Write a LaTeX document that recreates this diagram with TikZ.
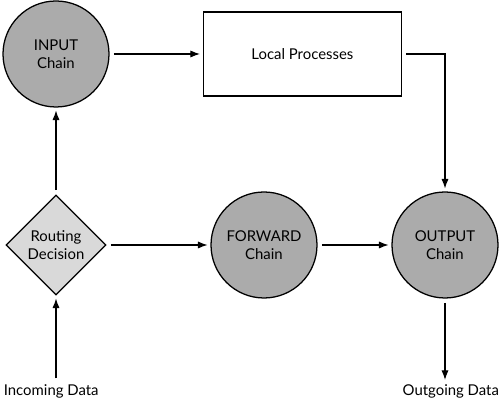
\documentclass[tikz,border=0pt]{standalone}
\usepackage{fontspec}
\setmainfont{Lato}
\usetikzlibrary{positioning,arrows.meta,shapes.geometric}
\tikzset{
  flowarrow/.style={-{Latex[length=2.4mm,width=1.8mm]}, line width=0.8pt, shorten >=2pt, shorten <=3pt},
  chainnode/.style={draw, circle, line width=0.9pt, fill=black!33, minimum size=2.65cm, inner sep=0pt, align=center},
  decision/.style={draw, diamond, aspect=1, line width=0.9pt, fill=black!15, minimum size=2.5cm, inner sep=0pt, align=center},
  procbox/.style={draw, line width=0.9pt, fill=white, minimum width=4.95cm, minimum height=2.1cm, align=center},
  datalabel/.style={inner sep=1pt}
}

\begin{document}
\begin{tikzpicture}[>=Latex, every node/.style={font=\fontsize{10.6pt}{12.8pt}\selectfont}]
  \useasboundingbox (0,0) rectangle (12.5,10);
  \node[chainnode] (inchain) at (1.4,8.65) {INPUT\\Chain};
  \node[procbox] (local) at (7.56,8.65) {Local Processes};
  \node[decision] (route) at (1.4,3.875) {Routing\\Decision};
  \node[chainnode] (fwdchain) at (6.6,3.875) {FORWARD\\Chain};
  \node[chainnode] (outchain) at (11.125,3.875) {OUTPUT\\Chain};
  \node[datalabel] (indata) at (1.28,0.22) {Incoming Data};
  \node[datalabel] (outdata) at (11.27,0.22) {Outgoing Data};
  \draw[flowarrow] (indata.north -| route) -- (route);
  \draw[flowarrow] (route) -- (inchain);
  \draw[flowarrow] (inchain) -- (local);
  \draw[flowarrow] (local.east) -| (outchain);
  \draw[flowarrow] (route) -- (fwdchain);
  \draw[flowarrow] (fwdchain) -- (outchain);
  \draw[flowarrow] (outchain) -- (outdata.north -| outchain);
\end{tikzpicture}
\end{document}
